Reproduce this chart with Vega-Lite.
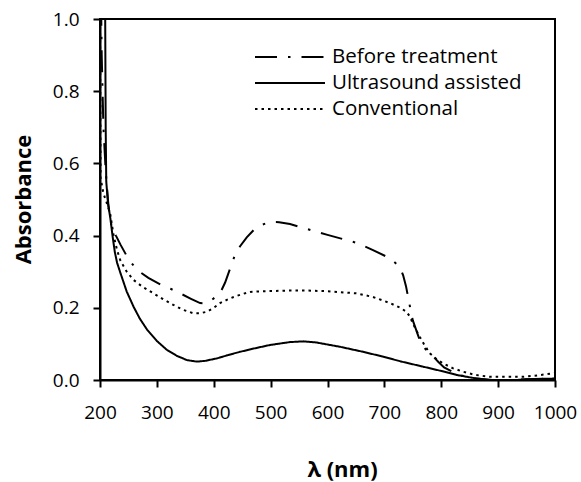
{
  "$schema": "https://vega.github.io/schema/vega-lite/v6.json",
  "width": 455,
  "height": 361,
  "autosize": "none",
  "padding": {"left": 100, "top": 19, "right": 26, "bottom": 102},
  "background": "white",
  "config": {
    "font": "Open Sans",
    "view": {"stroke": "black", "strokeWidth": 2},
    "axis": {"grid": false, "domainColor": "black", "domainWidth": 2, "tickColor": "black", "tickWidth": 2, "tickSize": 7, "labelColor": "black", "labelFontSize": 19, "labelFont": "Open Sans", "titleFont": "Open Sans", "titleColor": "black", "titleFontWeight": "bold", "titleFontSize": 22}
  },
  "data": {"values": [
    {"x":200,"y":1.3,"s":"Before treatment"},{"x":203,"y":0.9,"s":"Before treatment"},{"x":206,"y":0.7,"s":"Before treatment"},{"x":210,"y":0.58,"s":"Before treatment"},{"x":215,"y":0.48,"s":"Before treatment"},{"x":220,"y":0.43,"s":"Before treatment"},{"x":228,"y":0.4,"s":"Before treatment"},{"x":236,"y":0.375,"s":"Before treatment"},{"x":250,"y":0.335,"s":"Before treatment"},{"x":265,"y":0.305,"s":"Before treatment"},{"x":285,"y":0.283,"s":"Before treatment"},{"x":306,"y":0.265,"s":"Before treatment"},{"x":325,"y":0.252,"s":"Before treatment"},{"x":341,"y":0.24,"s":"Before treatment"},{"x":360,"y":0.225,"s":"Before treatment"},{"x":376,"y":0.213,"s":"Before treatment"},{"x":385,"y":0.212,"s":"Before treatment"},{"x":395,"y":0.22,"s":"Before treatment"},{"x":411,"y":0.24,"s":"Before treatment"},{"x":420,"y":0.27,"s":"Before treatment"},{"x":429,"y":0.31,"s":"Before treatment"},{"x":437,"y":0.345,"s":"Before treatment"},{"x":446,"y":0.37,"s":"Before treatment"},{"x":458,"y":0.395,"s":"Before treatment"},{"x":470,"y":0.415,"s":"Before treatment"},{"x":485,"y":0.43,"s":"Before treatment"},{"x":499,"y":0.438,"s":"Before treatment"},{"x":515,"y":0.437,"s":"Before treatment"},{"x":534,"y":0.432,"s":"Before treatment"},{"x":560,"y":0.42,"s":"Before treatment"},{"x":600,"y":0.402,"s":"Before treatment"},{"x":651,"y":0.38,"s":"Before treatment"},{"x":680,"y":0.36,"s":"Before treatment"},{"x":710,"y":0.337,"s":"Before treatment"},{"x":727,"y":0.314,"s":"Before treatment"},{"x":733,"y":0.29,"s":"Before treatment"},{"x":738,"y":0.26,"s":"Before treatment"},{"x":745,"y":0.203,"s":"Before treatment"},{"x":750,"y":0.165,"s":"Before treatment"},{"x":754,"y":0.147,"s":"Before treatment"},{"x":760,"y":0.12,"s":"Before treatment"},{"x":765,"y":0.1,"s":"Before treatment"},{"x":775,"y":0.08,"s":"Before treatment"},{"x":785,"y":0.067,"s":"Before treatment"},{"x":795,"y":0.05,"s":"Before treatment"},{"x":805,"y":0.035,"s":"Before treatment"},{"x":830,"y":0.014,"s":"Before treatment"},{"x":860,"y":0.004,"s":"Before treatment"},{"x":890,"y":0.0,"s":"Before treatment"},{"x":920,"y":0.0,"s":"Before treatment"},{"x":950,"y":0.002,"s":"Before treatment"},{"x":1000,"y":0.005,"s":"Before treatment"},
    {"x":205,"y":1.5,"s":"Ultrasound assisted"},{"x":209,"y":1.05,"s":"Ultrasound assisted"},{"x":210,"y":0.7,"s":"Ultrasound assisted"},{"x":211,"y":0.55,"s":"Ultrasound assisted"},{"x":214,"y":0.49,"s":"Ultrasound assisted"},{"x":218,"y":0.45,"s":"Ultrasound assisted"},{"x":222,"y":0.4,"s":"Ultrasound assisted"},{"x":226,"y":0.355,"s":"Ultrasound assisted"},{"x":230,"y":0.325,"s":"Ultrasound assisted"},{"x":236,"y":0.296,"s":"Ultrasound assisted"},{"x":247,"y":0.245,"s":"Ultrasound assisted"},{"x":259,"y":0.203,"s":"Ultrasound assisted"},{"x":270,"y":0.17,"s":"Ultrasound assisted"},{"x":283,"y":0.139,"s":"Ultrasound assisted"},{"x":300,"y":0.108,"s":"Ultrasound assisted"},{"x":318,"y":0.083,"s":"Ultrasound assisted"},{"x":335,"y":0.067,"s":"Ultrasound assisted"},{"x":353,"y":0.055,"s":"Ultrasound assisted"},{"x":370,"y":0.051,"s":"Ultrasound assisted"},{"x":385,"y":0.053,"s":"Ultrasound assisted"},{"x":406,"y":0.06,"s":"Ultrasound assisted"},{"x":425,"y":0.069,"s":"Ultrasound assisted"},{"x":446,"y":0.078,"s":"Ultrasound assisted"},{"x":470,"y":0.087,"s":"Ultrasound assisted"},{"x":499,"y":0.097,"s":"Ultrasound assisted"},{"x":534,"y":0.105,"s":"Ultrasound assisted"},{"x":557,"y":0.107,"s":"Ultrasound assisted"},{"x":580,"y":0.104,"s":"Ultrasound assisted"},{"x":622,"y":0.092,"s":"Ultrasound assisted"},{"x":660,"y":0.079,"s":"Ultrasound assisted"},{"x":697,"y":0.065,"s":"Ultrasound assisted"},{"x":730,"y":0.051,"s":"Ultrasound assisted"},{"x":768,"y":0.037,"s":"Ultrasound assisted"},{"x":800,"y":0.025,"s":"Ultrasound assisted"},{"x":827,"y":0.014,"s":"Ultrasound assisted"},{"x":855,"y":0.006,"s":"Ultrasound assisted"},{"x":885,"y":0.0,"s":"Ultrasound assisted"},{"x":914,"y":-0.002,"s":"Ultrasound assisted"},{"x":950,"y":0.002,"s":"Ultrasound assisted"},{"x":1000,"y":0.004,"s":"Ultrasound assisted"},
    {"x":200,"y":1.05,"s":"Conventional"},{"x":201,"y":0.56,"s":"Conventional"},{"x":206,"y":0.517,"s":"Conventional"},{"x":212,"y":0.49,"s":"Conventional"},{"x":218,"y":0.46,"s":"Conventional"},{"x":224,"y":0.4,"s":"Conventional"},{"x":230,"y":0.36,"s":"Conventional"},{"x":236,"y":0.33,"s":"Conventional"},{"x":247,"y":0.3,"s":"Conventional"},{"x":259,"y":0.277,"s":"Conventional"},{"x":275,"y":0.258,"s":"Conventional"},{"x":294,"y":0.24,"s":"Conventional"},{"x":310,"y":0.225,"s":"Conventional"},{"x":329,"y":0.208,"s":"Conventional"},{"x":345,"y":0.195,"s":"Conventional"},{"x":364,"y":0.185,"s":"Conventional"},{"x":376,"y":0.185,"s":"Conventional"},{"x":388,"y":0.189,"s":"Conventional"},{"x":400,"y":0.2,"s":"Conventional"},{"x":411,"y":0.213,"s":"Conventional"},{"x":423,"y":0.222,"s":"Conventional"},{"x":435,"y":0.23,"s":"Conventional"},{"x":450,"y":0.238,"s":"Conventional"},{"x":464,"y":0.244,"s":"Conventional"},{"x":490,"y":0.246,"s":"Conventional"},{"x":514,"y":0.247,"s":"Conventional"},{"x":534,"y":0.248,"s":"Conventional"},{"x":560,"y":0.248,"s":"Conventional"},{"x":600,"y":0.246,"s":"Conventional"},{"x":651,"y":0.24,"s":"Conventional"},{"x":680,"y":0.23,"s":"Conventional"},{"x":710,"y":0.213,"s":"Conventional"},{"x":728,"y":0.2,"s":"Conventional"},{"x":739,"y":0.189,"s":"Conventional"},{"x":745,"y":0.175,"s":"Conventional"},{"x":750,"y":0.157,"s":"Conventional"},{"x":756,"y":0.138,"s":"Conventional"},{"x":762,"y":0.12,"s":"Conventional"},{"x":770,"y":0.098,"s":"Conventional"},{"x":780,"y":0.074,"s":"Conventional"},{"x":790,"y":0.06,"s":"Conventional"},{"x":803,"y":0.046,"s":"Conventional"},{"x":820,"y":0.033,"s":"Conventional"},{"x":838,"y":0.023,"s":"Conventional"},{"x":860,"y":0.014,"s":"Conventional"},{"x":885,"y":0.009,"s":"Conventional"},{"x":944,"y":0.009,"s":"Conventional"},{"x":970,"y":0.013,"s":"Conventional"},{"x":1000,"y":0.019,"s":"Conventional"}
  ]},
  "mark": {"type": "line", "clip": true, "strokeWidth": 2, "color": "black"},
  "encoding": {
    "x": {"field": "x", "type": "quantitative", "scale": {"domain": [200, 1000], "nice": false, "zero": false},
      "axis": {"title": "λ (nm)", "values": [200,300,400,500,600,700,800,900,1000], "format": "d", "labelPadding": 16, "titleX": 242, "titleY": 89, "titleBaseline": "middle", "labelFlush": false}},
    "y": {"field": "y", "type": "quantitative", "scale": {"domain": [0, 1], "nice": false},
      "axis": {"title": "Absorbance", "values": [0,0.2,0.4,0.6,0.8,1.0], "format": ".1f", "labelPadding": 14, "titleX": -77, "titleY": 180, "titleBaseline": "middle", "labelFlush": false}},
    "strokeDash": {"field": "s", "type": "nominal",
      "scale": {"domain": ["Before treatment", "Ultrasound assisted", "Conventional"], "range": [[22, 11, 2.5, 11], [1, 0], [2.5, 4]]},
      "legend": {"title": null, "orient": "none", "legendX": 154, "legendY": 25, "symbolType": "stroke", "symbolSize": 4900, "symbolStrokeWidth": 2, "symbolStrokeColor": "black", "labelFontSize": 20.5, "labelLimit": 400, "labelColor": "black", "labelFont": "Open Sans", "rowPadding": 0, "clipHeight": 26, "labelOffset": 6}
    }
  }
}
